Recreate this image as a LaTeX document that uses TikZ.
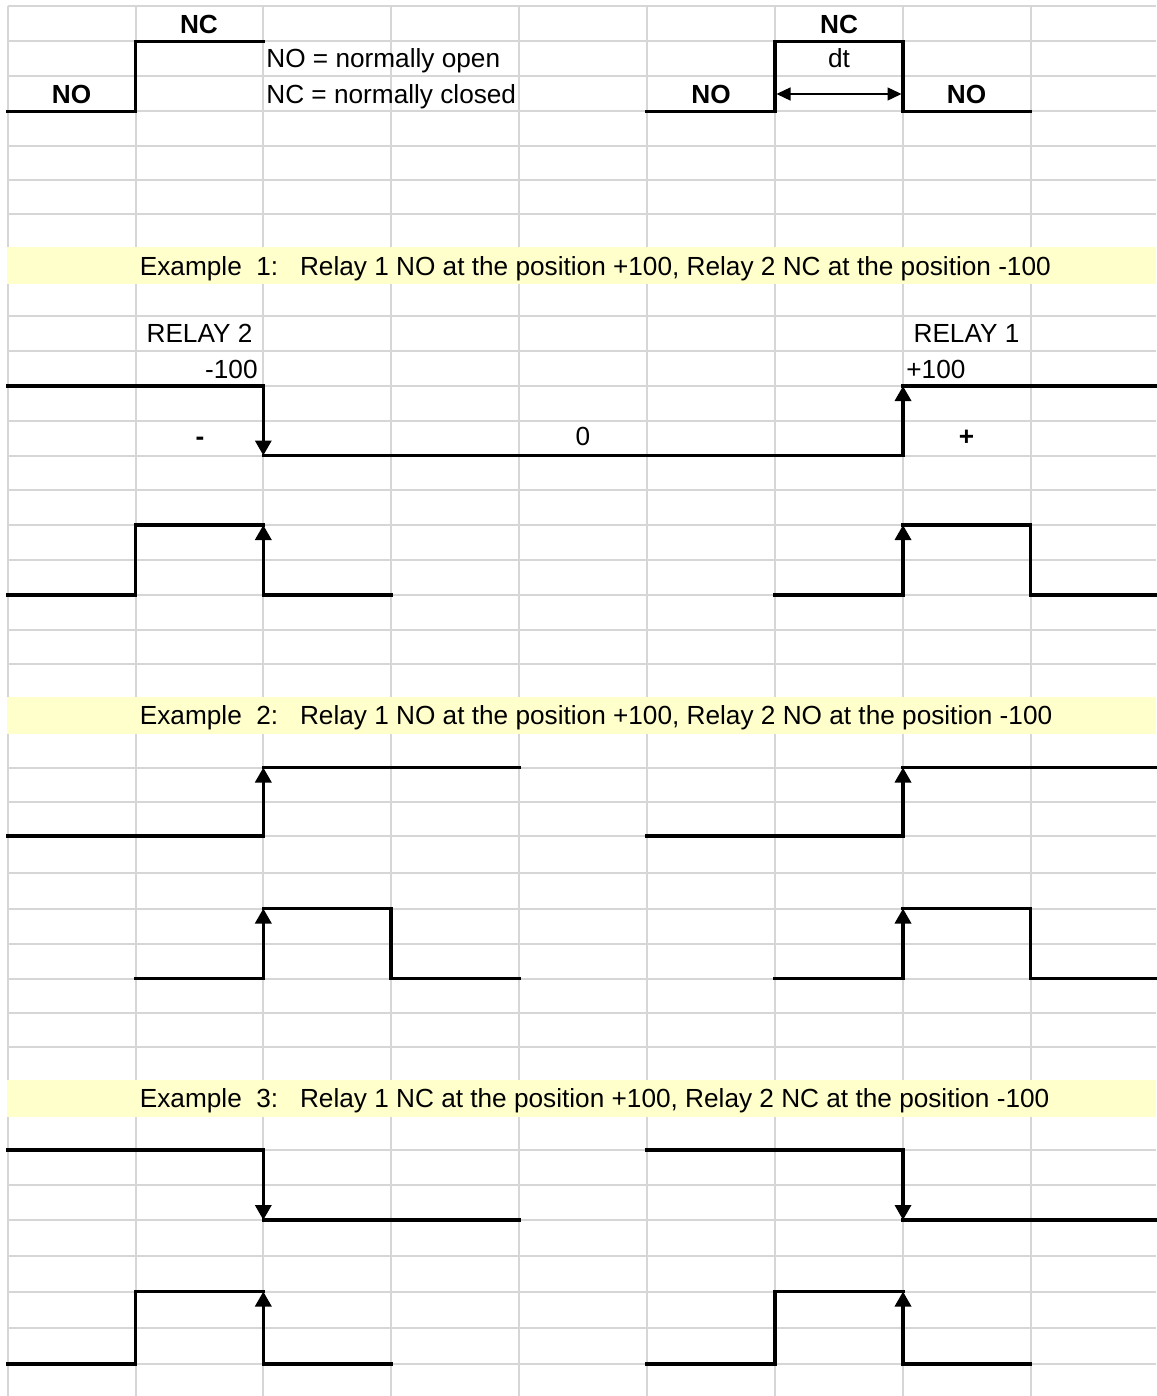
\documentclass[tikz,border=0pt]{standalone}
\usepackage{fontspec}
\setmainfont{Liberation Sans}
\usetikzlibrary{arrows.meta}
\definecolor{gridgray}{HTML}{D6D6D6}
\definecolor{bandyellow}{HTML}{FFFFCC}
\begin{document}
\begin{tikzpicture}[x=0.5pt,y=-0.5pt,
  gridline/.style={draw=gridgray,line width=1pt},
  sigline/.style={draw=black,line width=1.7pt,line cap=rect,line join=miter},
  sigarrow/.style={draw=black,line width=1.7pt,line cap=rect,-{Triangle[length=7.5pt,width=8pt]}},
  dimarrow/.style={draw=black,line width=0.7pt,{Triangle[length=7pt,width=6.5pt]}-{Triangle[length=7pt,width=6.5pt]}},
  txt/.style={inner sep=0pt,font=\fontsize{13.1}{15}\selectfont,text=black},
  btxt/.style={inner sep=0pt,font=\fontsize{13.1}{15}\selectfont\bfseries,text=black},
  yband/.style={fill=bandyellow,draw=none}]
\useasboundingbox (0,0) rectangle (1156,1396);
\fill[white] (0,0) rectangle (1156,1396);
% grid
\foreach \gx in {7.5,135.5,263.3,391,519,647,775,903,1030.5}
  \draw[gridline] (\gx,6) -- (\gx,1396);
\foreach \gy in {6,41.5,76,111.5,146,180.5,214.5,248,283,316,350.5,386,421,455.5,490,525,560,595,629.5,663.5,697.5,732.5,767.5,802,836,872.5,908.5,944,978.5,1013,1047,1080.5,1115.5,1150,1184.5,1220,1256,1291.5,1328,1364}
  \draw[gridline] (7.5,\gy) -- (1156,\gy);
% yellow bands
\fill[yband] (6.5,247) rectangle (1156,284);
\fill[yband] (6.5,696.5) rectangle (1156,733.5);
\fill[yband] (6.5,1079.5) rectangle (1156,1116.5);
% legend
\node[btxt,anchor=base] (ncA) at (199,33.5) {NC};
\node[btxt,anchor=base] (noA) at (71.5,103.5) {NO};
\node[txt,anchor=base west] (legNO) at (266,68) {NO = normally open};
\node[txt,anchor=base west] (legNC) at (266,103.5) {NC = normally closed};
\node[btxt,anchor=base] (ncB) at (839,33.5) {NC};
\node[txt,anchor=base] (dt) at (839,68) {dt};
\node[btxt,anchor=base] (noB) at (711,103.5) {NO};
\node[btxt,anchor=base] (noC) at (966.5,103.5) {NO};
\draw[sigline] (7.5,111.5) -- (135.5,111.5) -- (135.5,41.5) -- (263.3,41.5);
\draw[sigline] (647,111.5) -- (775,111.5) -- (775,41.5) -- (903,41.5) -- (903,111.5) -- (1030.5,111.5);
\coordinate (dtL) at (776.5,94);
\coordinate (dtR) at (901.5,94);
\draw[dimarrow] (dtL) -- (dtR);
% example texts
\node[txt,anchor=base west] (ex1) at (139.5,275) {Example~~1:~~~Relay 1 NO at the position +100, Relay 2 NC at the position -100};
\node[txt,anchor=base west] (ex2) at (139.5,724.5) {Example~~2:~~~Relay 1 NO at the position +100, Relay 2 NO at the position -100};
\node[txt,anchor=base west] (ex3) at (139.5,1107.5) {Example~~3:~~~Relay 1 NC at the position +100, Relay 2 NC at the position -100};
% example 1 labels
\node[txt,anchor=base] (r2) at (199.5,342.5) {RELAY 2};
\node[txt,anchor=base east] (m100) at (258,378) {-100};
\node[txt,anchor=base] (r1) at (966.5,342.5) {RELAY 1};
\node[txt,anchor=base west] (p100) at (906,378) {+100};
\node[btxt,anchor=base] (minus) at (200,445) {-};
\node[txt,anchor=base] (zero) at (583,445) {0};
\node[btxt,anchor=base] (plus) at (966.5,445) {+};
% example 1 waves
\draw[sigline] (7.5,386) -- (263.3,386);
\draw[sigarrow] (263.3,386) -- (263.3,455.5);
\draw[sigline] (263.3,455.5) -- (903,455.5);
\draw[sigarrow] (903,455.5) -- (903,386);
\draw[sigline] (903,386) -- (1156,386);
\draw[sigline] (7.5,595) -- (135.5,595) -- (135.5,525) -- (263.3,525);
\draw[sigarrow] (263.3,595) -- (263.3,525);
\draw[sigline] (263.3,595) -- (391,595);
\draw[sigline] (775,595) -- (903,595);
\draw[sigarrow] (903,595) -- (903,525);
\draw[sigline] (903,525) -- (1030.5,525) -- (1030.5,595) -- (1156,595);
% example 2 waves
\draw[sigline] (7.5,836) -- (263.3,836);
\draw[sigarrow] (263.3,836) -- (263.3,767.5);
\draw[sigline] (263.3,767.5) -- (519,767.5);
\draw[sigline] (647,836) -- (903,836);
\draw[sigarrow] (903,836) -- (903,767.5);
\draw[sigline] (903,767.5) -- (1156,767.5);
\draw[sigline] (135.5,978.5) -- (263.3,978.5);
\draw[sigarrow] (263.3,978.5) -- (263.3,908.5);
\draw[sigline] (263.3,908.5) -- (391,908.5) -- (391,978.5) -- (519,978.5);
\draw[sigline] (775,978.5) -- (903,978.5);
\draw[sigarrow] (903,978.5) -- (903,908.5);
\draw[sigline] (903,908.5) -- (1030.5,908.5) -- (1030.5,978.5) -- (1156,978.5);
% example 3 waves
\draw[sigline] (7.5,1150) -- (263.3,1150);
\draw[sigarrow] (263.3,1150) -- (263.3,1220);
\draw[sigline] (263.3,1220) -- (519,1220);
\draw[sigline] (647,1150) -- (903,1150);
\draw[sigarrow] (903,1150) -- (903,1220);
\draw[sigline] (903,1220) -- (1156,1220);
\draw[sigline] (7.5,1364) -- (135.5,1364) -- (135.5,1291.5) -- (263.3,1291.5);
\draw[sigarrow] (263.3,1364) -- (263.3,1291.5);
\draw[sigline] (263.3,1364) -- (391,1364);
\draw[sigline] (647,1364) -- (775,1364) -- (775,1291.5) -- (903,1291.5);
\draw[sigarrow] (903,1364) -- (903,1291.5);
\draw[sigline] (903,1364) -- (1030.5,1364);
\end{tikzpicture}
\end{document}
